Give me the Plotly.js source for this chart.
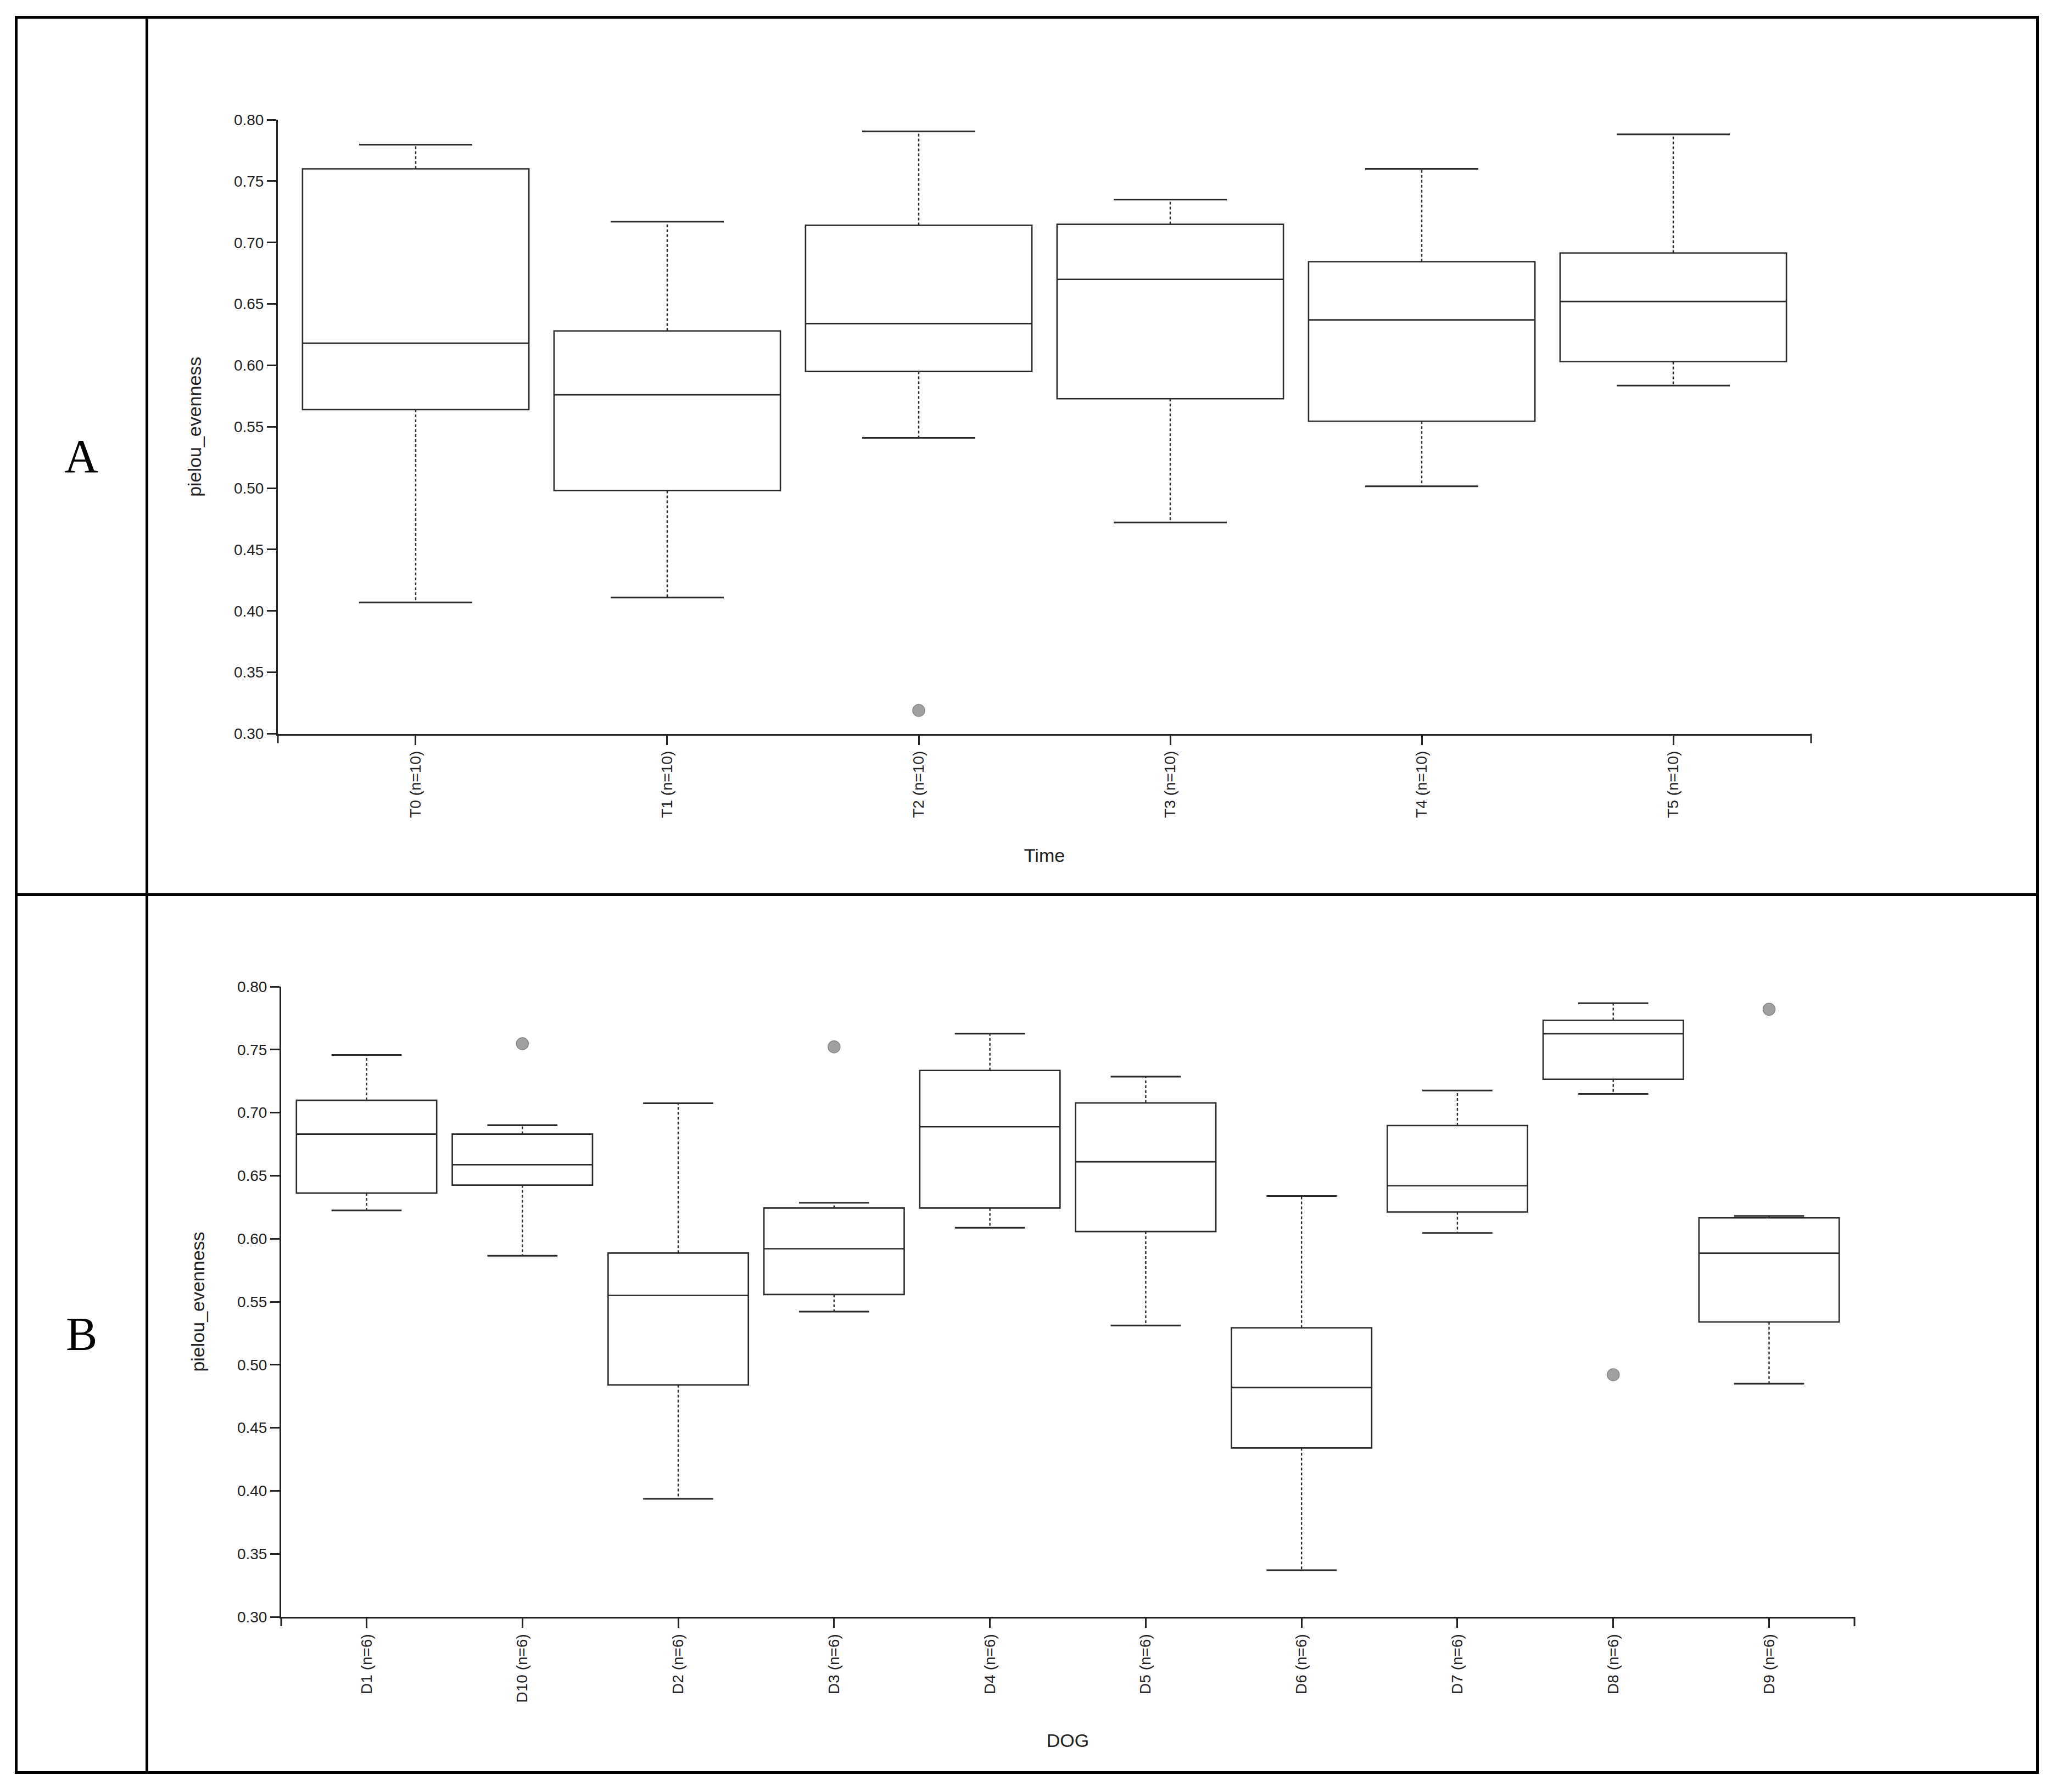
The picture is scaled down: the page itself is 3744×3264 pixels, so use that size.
<!DOCTYPE html>
<html>
<head>
<meta charset="utf-8">
<script src="https://cdn.plot.ly/plotly-3.0.1.min.js"></script>
<style>html,body{margin:0;padding:0;background:#fff;}#chart{width:3744px;height:3264px;}</style>
</head>
<body>
<div id="chart"></div>
<script>
// ---------- Panel A data (Time) ----------
const timeCategories = ['T0 (n=10)', 'T1 (n=10)', 'T2 (n=10)', 'T3 (n=10)', 'T4 (n=10)', 'T5 (n=10)'];
const timeLower  = [0.407, 0.411, 0.541, 0.472, 0.5015, 0.5835];
const timeQ1     = [0.564, 0.498, 0.595, 0.5728, 0.5545, 0.603];
const timeMedian = [0.618, 0.576, 0.634, 0.670, 0.637, 0.652];
const timeQ3     = [0.760, 0.628, 0.714, 0.7148, 0.6843, 0.6915];
const timeUpper  = [0.7797, 0.717, 0.7905, 0.735, 0.760, 0.788];
const timeOutlierCats   = ['T2 (n=10)'];
const timeOutlierValues = [0.319];

// ---------- Panel B data (DOG) ----------
const dogCategories = ['D1 (n=6)', 'D10 (n=6)', 'D2 (n=6)', 'D3 (n=6)', 'D4 (n=6)', 'D5 (n=6)', 'D6 (n=6)', 'D7 (n=6)', 'D8 (n=6)', 'D9 (n=6)'];
const dogLower  = [0.6224, 0.5865, 0.3936, 0.5422, 0.6087, 0.5312, 0.337, 0.6045, 0.7148, 0.485];
const dogQ1     = [0.6362, 0.6425, 0.484, 0.5557, 0.6243, 0.6057, 0.434, 0.6212, 0.7265, 0.534];
const dogMedian = [0.683, 0.6587, 0.555, 0.592, 0.6888, 0.661, 0.482, 0.642, 0.7626, 0.5885];
const dogQ3     = [0.7098, 0.683, 0.5886, 0.6243, 0.7335, 0.7077, 0.5293, 0.6898, 0.7732, 0.6165];
const dogUpper  = [0.7458, 0.69, 0.7075, 0.6285, 0.7626, 0.7286, 0.6338, 0.7176, 0.7868, 0.618];
const dogOutlierCats   = ['D10 (n=6)', 'D3 (n=6)', 'D8 (n=6)', 'D9 (n=6)'];
const dogOutlierValues = [0.7547, 0.7522, 0.4921, 0.782];

const yTickVals = [0.30, 0.35, 0.40, 0.45, 0.50, 0.55, 0.60, 0.65, 0.70, 0.75, 0.80];

// ---------- styling ----------
const W = 3744, H = 3264;
const px = v => v / W;
const py = v => 1 - v / H;
const BOX_W = 0.9;
const CAP_HALF = BOX_W * 0.25;
const LINE_COL = '#2a2a2a';
const AXIS_COL = '#222';
const FONT = 'Liberation Sans, Arial, sans-serif';

function panelTraces(cats, lower, q1, med, q3, upper, outCats, outVals, xa, ya) {
  const idx = cats.map((c, i) => i);
  const wx = [], wy = [], cx = [], cy = [];
  idx.forEach(i => {
    wx.push(i, i, null, i, i, null);
    wy.push(q3[i], upper[i], null, q1[i], lower[i], null);
    cx.push(i - CAP_HALF, i + CAP_HALF, null, i - CAP_HALF, i + CAP_HALF, null);
    cy.push(upper[i], upper[i], null, lower[i], lower[i], null);
  });
  return [
    {
      type: 'box', xaxis: xa, yaxis: ya, x: idx,
      q1: q1, median: med, q3: q3, lowerfence: q1, upperfence: q3,
      width: BOX_W, whiskerwidth: 0, boxpoints: false,
      line: {color: LINE_COL, width: 2.6}, fillcolor: 'rgba(255,255,255,0)',
      hoverinfo: 'skip', showlegend: false
    },
    {
      type: 'scatter', mode: 'lines', xaxis: xa, yaxis: ya, x: wx, y: wy,
      line: {color: LINE_COL, width: 2.4, dash: '5px,4px'},
      hoverinfo: 'skip', showlegend: false
    },
    {
      type: 'scatter', mode: 'lines', xaxis: xa, yaxis: ya, x: cx, y: cy,
      line: {color: LINE_COL, width: 3},
      hoverinfo: 'skip', showlegend: false
    },
    {
      type: 'scatter', mode: 'markers', xaxis: xa, yaxis: ya,
      x: outCats.map(c => cats.indexOf(c)), y: outVals,
      marker: {size: 22, color: 'rgb(160,160,160)', line: {color: 'rgb(135,135,135)', width: 1.5}},
      hoverinfo: 'skip', showlegend: false
    }
  ];
}

const data = [].concat(
  panelTraces(timeCategories, timeLower, timeQ1, timeMedian, timeQ3, timeUpper, timeOutlierCats, timeOutlierValues, 'x', 'y'),
  panelTraces(dogCategories, dogLower, dogQ1, dogMedian, dogQ3, dogUpper, dogOutlierCats, dogOutlierValues, 'x2', 'y2')
);

function xAxis(cats, domain, anchor, title) {
  return {
    domain: domain, anchor: anchor, type: 'linear',
    range: [-0.548, cats.length - 1 + 0.548],
    tickmode: 'array', tickvals: cats.map((c, i) => i), ticktext: cats,
    tickangle: -90, ticks: 'outside', ticklen: 17, tickwidth: 3, tickcolor: AXIS_COL,
    showline: true, linewidth: 3, linecolor: AXIS_COL,
    showgrid: false, zeroline: false,
    tickfont: {family: FONT, size: 28, color: '#222'},
    title: {text: title, font: {family: FONT, size: 34, color: '#222'}, standoff: 58}
  };
}
function yAxis(domain, anchor) {
  return {
    domain: domain, anchor: anchor, range: [0.30, 0.80],
    tickmode: 'array', tickvals: yTickVals, tickformat: '.2f',
    ticks: 'outside', ticklen: 17, tickwidth: 3, tickcolor: AXIS_COL,
    showline: true, linewidth: 3, linecolor: AXIS_COL,
    showgrid: false, zeroline: false,
    tickfont: {family: FONT, size: 28, color: '#222'},
    title: {text: 'pielou_evenness', font: {family: FONT, size: 34, color: '#222'}, standoff: 50}
  };
}

const border = {color: '#000', width: 5};
function endTick(xa, ya, xpos) {
  return {type: 'line', xref: xa + ' domain', yref: ya + ' domain', ysizemode: 'pixel', yanchor: 0,
          x0: xpos, x1: xpos, y0: 0, y1: -17, line: {color: AXIS_COL, width: 3}};
}

const layout = {
  width: W, height: H, margin: {l: 0, r: 0, t: 0, b: 0},
  paper_bgcolor: '#fff', plot_bgcolor: 'rgba(0,0,0,0)', showlegend: false,
  xaxis:  xAxis(timeCategories, [px(506), px(3298)], 'y', 'Time'),
  yaxis:  yAxis([py(1336.5), py(218)], 'x'),
  xaxis2: xAxis(dogCategories, [px(512), px(3377)], 'y2', 'DOG'),
  yaxis2: yAxis([py(2945), py(1797)], 'x2'),
  shapes: [
    {type: 'rect', xref: 'paper', yref: 'paper', x0: px(29.5), x1: px(3710.5), y0: py(3228.5), y1: py(31.5), line: border},
    {type: 'line', xref: 'paper', yref: 'paper', x0: px(267.5), x1: px(267.5), y0: py(3228.5), y1: py(31.5), line: border},
    {type: 'line', xref: 'paper', yref: 'paper', x0: px(29.5), x1: px(3710.5), y0: py(1629.5), y1: py(1629.5), line: border},
    endTick('x', 'y', 0), endTick('x', 'y', 1),
    endTick('x2', 'y2', 0), endTick('x2', 'y2', 1)
  ],
  annotations: [
    {text: 'A', xref: 'paper', yref: 'paper', x: px(148), y: py(831), xanchor: 'center', yanchor: 'middle',
     showarrow: false, font: {family: 'Liberation Serif, Times New Roman, serif', size: 86, color: '#000'}},
    {text: 'B', xref: 'paper', yref: 'paper', x: px(148), y: py(2430), xanchor: 'center', yanchor: 'middle',
     showarrow: false, font: {family: 'Liberation Serif, Times New Roman, serif', size: 86, color: '#000'}}
  ]
};

Plotly.newPlot('chart', data, layout, {staticPlot: true, displayModeBar: false});
</script>
</body>
</html>
